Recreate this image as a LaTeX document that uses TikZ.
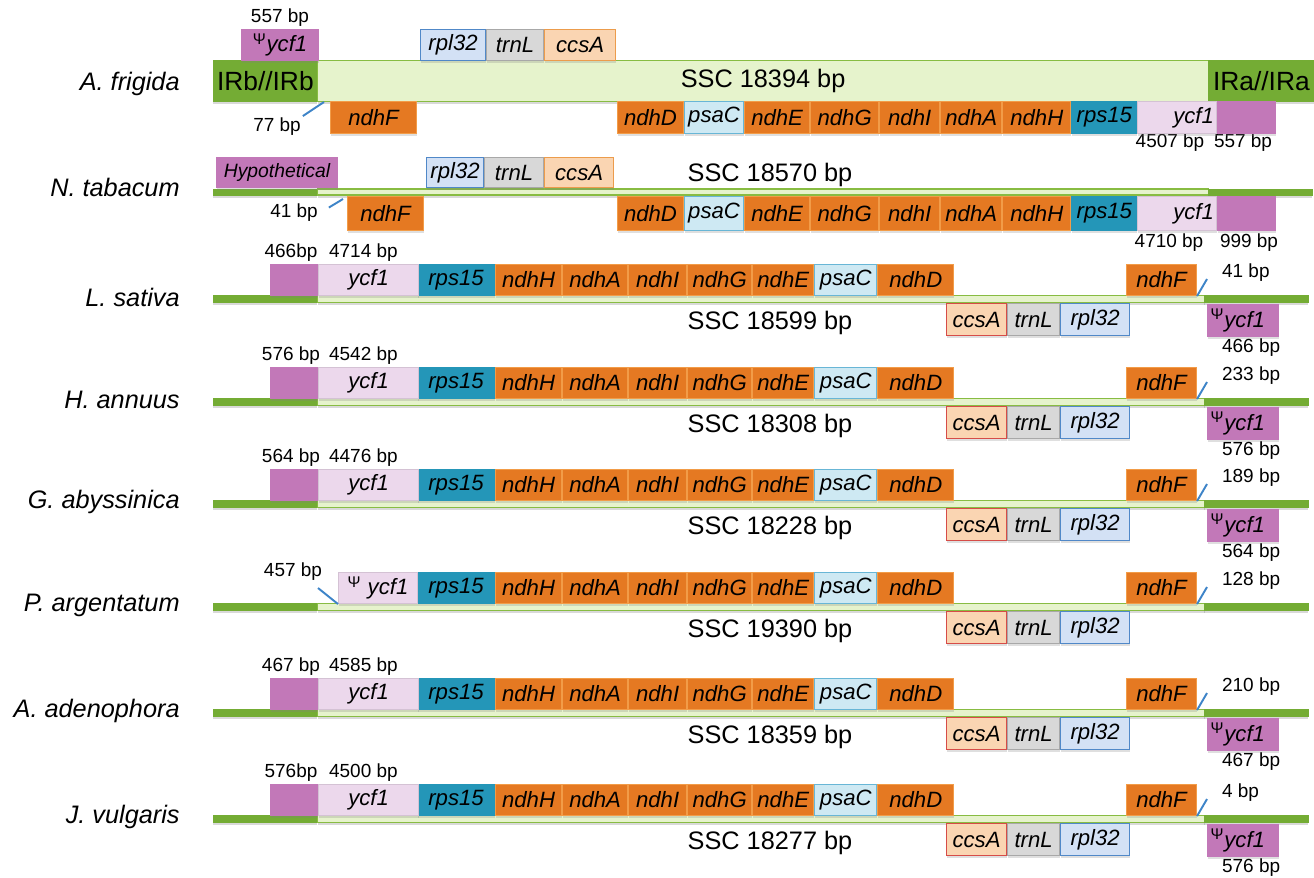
\documentclass[tikz,border=0pt]{standalone}
\usepackage{fontspec}
\setmainfont{Liberation Sans}
\usetikzlibrary{positioning,shadows}

\definecolor{irgreen}{RGB}{116,172,52}
\definecolor{sscgreen}{RGB}{230,243,204}
\definecolor{sscline}{RGB}{136,188,66}
\definecolor{ndhor}{RGB}{229,121,34}
\definecolor{ndhline}{RGB}{242,156,72}
\definecolor{psafill}{RGB}{206,233,243}
\definecolor{psaline}{RGB}{104,182,214}
\definecolor{rpsteal}{RGB}{36,150,184}
\definecolor{ycfpale}{RGB}{236,216,236}
\definecolor{ycfpurple}{RGB}{194,120,184}
\definecolor{rplfill}{RGB}{211,225,245}
\definecolor{rplline}{RGB}{80,136,200}
\definecolor{trnfill}{RGB}{216,216,216}
\definecolor{trnline}{RGB}{168,168,168}
\definecolor{ccsfill}{RGB}{250,213,178}
\definecolor{ccsline}{RGB}{236,156,76}
\definecolor{ccsred}{RGB}{214,76,72}
\definecolor{tickblue}{RGB}{62,132,200}

\begin{document}
\begin{tikzpicture}[
    x=0.02cm, y=-0.02cm,
    sp/.style={anchor=east, inner sep=0pt, font=\fontsize{14.4}{16}\selectfont\itshape},
    bp/.style={inner sep=1pt, font=\fontsize{10.8}{12}\selectfont},
    ssc/.style={inner sep=0pt, font=\fontsize{14.4}{16}\selectfont},
    gene/.style={draw, line width=0.6pt, inner sep=0pt, anchor=north west,
                 minimum height=0.62cm, font=\fontsize{12.6}{14}\selectfont\itshape,
                 drop shadow={shadow xshift=0pt, shadow yshift=-1.2pt, opacity=0.25}},
    ndh/.style={gene, fill=ndhor, draw=ndhline},
    psa/.style={gene, fill=psafill, draw=psaline},
    rps/.style={gene, fill=rpsteal, draw=rpsteal},
    ycf/.style={gene, fill=ycfpale, draw=ycfpale!90!black},
    irpart/.style={gene, fill=ycfpurple, draw=ycfpurple},
    rpl/.style={gene, fill=rplfill, draw=rplline},
    trn/.style={gene, fill=trnfill, draw=trnline},
    ccs/.style={gene, fill=ccsfill, draw=ccsline},
    irbar/.style={draw=irgreen, fill=irgreen, inner sep=0pt, anchor=west,
                  minimum height=0.14cm,
                  drop shadow={shadow xshift=0pt, shadow yshift=-1.5pt, opacity=0.3}},
    sscbar/.style={irbar, draw=sscline, fill=sscgreen, line width=0.8pt},
    bline/.style={draw=tickblue, line width=1.1pt},
]
\useasboundingbox (0,0) rectangle (1314,877);

%% ── A. frigida ───────────────────────────────────────────────────────────
\node[sp] (sp1) at (180,84) {A. frigida};
\node[irbar, anchor=north west, minimum width=2.08cm, minimum height=0.82cm,
      font=\fontsize{15}{17}\selectfont] (irb1) at (213,60) {IRb//IRb};
\node[sscbar, anchor=north west, minimum width=17.82cm, minimum height=0.82cm,
      font=\fontsize{14.4}{16}\selectfont] (ssc1) at (317,60) {SSC 18394 bp};
\node[irbar, anchor=north west, minimum width=2.12cm, minimum height=0.82cm,
      font=\fontsize{15}{17}\selectfont] (ira1) at (1208,60) {IRa//IRa};

% genes above
\node[irpart, minimum width=1.54cm] (psi1) at (241,29) {\textsuperscript{\upshape Ψ}ycf1};
\node[rpl, minimum width=1.3cm] (rpl1) at (420,29) {rpl32};
\node[trn, minimum width=1.14cm, right=0pt of rpl1] (trnL1) {trnL};
\node[ccs, minimum width=1.42cm, right=0pt of trnL1] (ccsA1) {ccsA};
\node[bp] (la1) at (280,18) {557 bp};

% genes below
\node[ndh, minimum width=1.72cm, minimum height=0.64cm] (ndhF1) at (330,101) {ndhF};
\node[bp] (l77) at (277,127) {77 bp};
\coordinate (j1) at (324,102);
\draw[bline] (l77.north east) -- (j1);
\node[bp] (lc1) at (1170,143) {4507 bp};
\node[bp] (ld1) at (1243,143) {557 bp};

%% ── N. tabacum ───────────────────────────────────────────────────────────
\node[sp] (sp2) at (180,187) {N. tabacum};
\node[irbar, minimum width=2.08cm, minimum height=0.12cm] (irl2) at (213,192) {};
\node[sscbar, minimum width=17.82cm, minimum height=0.12cm] (ssc2) at (317,192) {};
\node[irbar, minimum width=2.08cm, minimum height=0.12cm] (irr2) at (1208,192) {};
\node[ssc] (sl2) at (770,175) {SSC 18570 bp};

\node[irpart, minimum width=2.42cm, minimum height=0.6cm,
      font=\fontsize{11}{13}\selectfont\itshape] (hyp2) at (216,157) {Hypothetical};
\node[rpl, minimum width=1.14cm, minimum height=0.6cm] (rpl2) at (426,157) {rpl32};
\node[trn, minimum width=1.18cm, minimum height=0.6cm, right=0pt of rpl2] (trnL2) {trnL};
\node[ccs, minimum width=1.38cm, minimum height=0.6cm, right=0pt of trnL2] (ccsA2) {ccsA};

\node[ndh, minimum width=1.52cm, minimum height=0.68cm] (ndhF2) at (347,196) {ndhF};
\node[bp] (l41) at (294,213) {41 bp};
\coordinate (j2) at (343,199);
\draw[bline, shorten <=6pt] (l41.east) -- (j2);
\node[bp] (lc2) at (1169,243) {4710 bp};
\node[bp] (ld2) at (1249,243) {999 bp};

% ndhD ... ycf1 row, same for both
\foreach \i/\t/\h in {1/101/0.64cm, 2/196/0.68cm}{
  \node[ndh, minimum width=1.32cm, minimum height=\h] (ndhD\i) at (617,\t) {ndhD};
  \node[psa, minimum width=1.18cm, minimum height=\h, right=0pt of ndhD\i] (psaC\i) {psaC};
  \node[ndh, minimum width=1.3cm, minimum height=\h, right=0pt of psaC\i] (ndhE\i) {ndhE};
  \node[ndh, minimum width=1.36cm, minimum height=\h, right=0pt of ndhE\i] (ndhG\i) {ndhG};
  \node[ndh, minimum width=1.2cm, minimum height=\h, right=0pt of ndhG\i] (ndhI\i) {ndhI};
  \node[ndh, minimum width=1.22cm, minimum height=\h, right=0pt of ndhI\i] (ndhA\i) {ndhA};
  \node[ndh, minimum width=1.36cm, minimum height=\h, right=0pt of ndhA\i] (ndhH\i) {ndhH};
  \node[rps, minimum width=1.3cm, minimum height=\h, right=0pt of ndhH\i] (rps\i) {rps15};
  \node[ycf, minimum width=1.58cm, minimum height=\h, text width=1.46cm, align=right,
        right=0pt of rps\i] (ycf\i) {ycf1};
  \node[irpart, minimum width=1.16cm, minimum height=\h, right=0pt of ycf\i] (irp\i) {};
}

%% ── L. sativa ... J. vulgaris ────────────────────────────────────────────
\foreach \i/\c/\name/\len/\rt in {3/299/L. sativa/18599/41 bp, 4/402/H. annuus/18308/233 bp,
    5/504/G. abyssinica/18228/189 bp, 6/607/P. argentatum/19390/128 bp,
    7/713/A. adenophora/18359/210 bp, 8/819/J. vulgaris/18277/4 bp}{
  \node[sp] (sp\i) at (180,\c-2) {\name};
  \node[irbar, minimum width=2.08cm] (irl\i) at (213,\c) {};
  \node[sscbar, minimum width=17.74cm] (ssc\i) at (317,\c) {};
  \node[irbar, minimum width=2.08cm] (irr\i) at (1204,\c) {};
  \node[ssc] (sl\i) at (770,\c+24) {SSC \len\ bp};
  % genes above
  \node[rps, minimum width=1.54cm] (rps\i) at (417,\c-35) {rps15};
  \node[ndh, minimum width=1.32cm, right=0pt of rps\i] (ndhH\i) {ndhH};
  \node[ndh, minimum width=1.3cm, right=0pt of ndhH\i] (ndhA\i) {ndhA};
  \node[ndh, minimum width=1.16cm, right=0pt of ndhA\i] (ndhI\i) {ndhI};
  \node[ndh, minimum width=1.28cm, right=0pt of ndhI\i] (ndhG\i) {ndhG};
  \node[ndh, minimum width=1.22cm, right=0pt of ndhG\i] (ndhE\i) {ndhE};
  \node[psa, minimum width=1.24cm, right=0pt of ndhE\i] (psaC\i) {psaC};
  \node[ndh, minimum width=1.52cm, right=0pt of psaC\i] (ndhD\i) {ndhD};
  \node[ndh, minimum width=1.4cm] (ndhF\i) at (1126,\c-35) {ndhF};
  % genes below
  \node[ccs, draw=ccsred, minimum width=1.2cm, minimum height=0.64cm] (ccsA\i) at (946,\c+4) {ccsA};
  \node[trn, minimum width=1.04cm, minimum height=0.64cm, right=0pt of ccsA\i] (trnL\i) {trnL};
  \node[rpl, minimum width=1.38cm, minimum height=0.64cm, right=0pt of trnL\i] (rpl\i) {rpl32};
  % IRa junction
  \node[bp, anchor=west] (rt\i) at (1220,\c-26) {\rt};
  \coordinate (jr\i) at (1207,\c-20);
  \draw[bline] (ndhF\i.south east) -- (jr\i);
}

% ycf1 across IRb and SSC, and the IRa copy
\foreach \i/\c/\la/\lb/\rb in {3/299/466bp/4714 bp/466 bp, 4/402/576 bp/4542 bp/576 bp,
    5/504/564 bp/4476 bp/564 bp, 7/713/467 bp/4585 bp/467 bp, 8/819/576bp/4500 bp/576 bp}{
  \node[irpart, minimum width=0.94cm] (irp\i) at (270,\c-35) {};
  \node[ycf, minimum width=2cm, right=0pt of irp\i] (ycf\i) {ycf1};
  \node[bp] (la\i) at (291,\c-46) {\la};
  \node[bp, anchor=west] (lb\i) at (327,\c-46) {\lb};
  \node[irpart, minimum width=1.42cm, minimum height=0.64cm, text width=1.3cm, align=left]
       (psi\i) at (1207,\c+5) {\textsuperscript{\upshape Ψ}ycf1};
  \node[bp, anchor=west] (rb\i) at (1220,\c+49) {\rb};
}

% P. argentatum: only a ycf1 pseudogene
\node[ycf, minimum width=1.58cm] (ycf6) at (338,572) {\textsuperscript{\upshape Ψ} ycf1};
\node[bp] (la6) at (293,572) {457 bp};
\coordinate (kp6) at (318,588);
\draw[bline] (kp6) -- (ycf6.south west);

\end{tikzpicture}
\end{document}
